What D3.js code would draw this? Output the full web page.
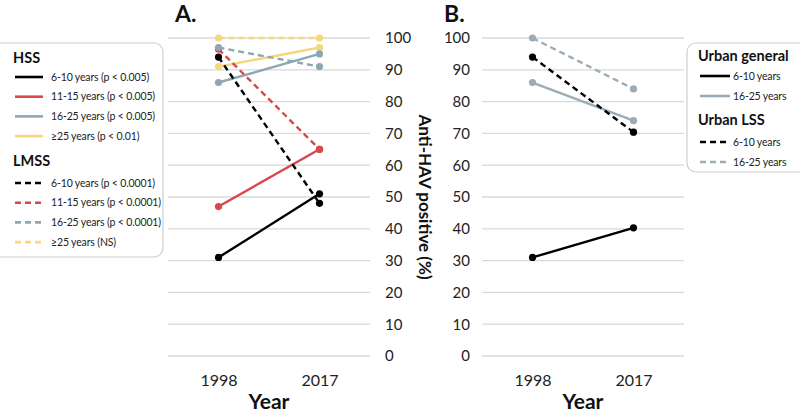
<!DOCTYPE html>
<html lang="en">
<head>
<meta charset="UTF-8">
<script src="https://cdnjs.cloudflare.com/ajax/libs/d3/7.8.5/d3.min.js"></script>
<title>Anti-HAV</title>
<style>
    body { margin: 0; background: #fff; }
    svg { font-family: Lato, "Open Sans", sans-serif; }
</style>
</head>
<body>
<div id="chart"></div>
<script>
// data
var years = ["1998", "2017"];
var yTicks = [0, 10, 20, 30, 40, 50, 60, 70, 80, 90, 100];

var hssLabels = ["6-10 years (p < 0.005)", "11-15 years (p < 0.005)", "16-25 years (p < 0.005)", "\u226525 years (p < 0.01)"];
var hssValues = [[31, 51], [47, 65], [86, 95], [91, 97]];
var lmssLabels = ["6-10 years (p < 0.0001)", "11-15 years (p < 0.0001)", "16-25 years (p < 0.0001)", "\u226525 years (NS)"];
var lmssValues = [[94, 48], [96.5, 65], [97, 91], [100, 100]];

var urbanLabels = ["6-10 years", "16-25 years"];
var urbanValues = [[31, 40.3], [86, 74]];
var urbanLssLabels = ["6-10 years", "16-25 years"];
var urbanLssValues = [[94, 70.4], [100, 84]];

var colA = ["#000000", "#d9474b", "#8ea7b3", "#f6d77e"];
var colB = ["#000000", "#98adb7"];

var svg = d3.select("#chart").append("svg").attr("width", 800).attr("height", 413);

var y = d3.scaleLinear().domain([0, 100]).range([356, 38]);
var xA = d3.scalePoint().domain(years).range([168, 370]).padding(0.5);
var xB = d3.scalePoint().domain(years).range([482, 684]).padding(0.5);

function panel(x, x0, x1) {
    svg.append("g").selectAll("line").data(yTicks).enter().append("line")
        .attr("x1", x0).attr("x2", x1)
        .attr("y1", function(d){ return y(d); }).attr("y2", function(d){ return y(d); })
        .attr("stroke", "#d9d9d9").attr("stroke-width", 1.3);
    var ax = svg.append("g").attr("transform", "translate(0,380)")
        .call(d3.axisBottom(x).tickSize(0).tickPadding(0));
    ax.select(".domain").remove();
    ax.selectAll("text").attr("font-size", 16).attr("fill", "#222").attr("dy", "0.35em")
        .style("font-family", "Lato, sans-serif");
    svg.append("text").attr("x", (x0 + x1) / 2).attr("y", 409)
        .attr("text-anchor", "middle").attr("font-size", 21).attr("font-weight", "bold")
        .attr("fill", "#111").text("Year");
}

function series(x, vals, color, dashed) {
    var pts = years.map(function(yr, i){ return [x(yr), y(vals[i])]; });
    svg.append("path").attr("d", d3.line()(pts)).attr("fill", "none")
        .attr("stroke", color).attr("stroke-width", 2.4)
        .attr("stroke-dasharray", dashed ? "6,4" : null);
    svg.append("g").selectAll("circle").data(pts).enter().append("circle")
        .attr("cx", function(d){ return d[0]; }).attr("cy", function(d){ return d[1]; })
        .attr("r", 3.6).attr("fill", color);
}

panel(xA, 168, 370);
panel(xB, 482, 684);

// panel A: solid first, then dashed on top
[3, 2, 1, 0].forEach(function(i){ series(xA, hssValues[i], colA[i], false); });
[3, 1, 2, 0].forEach(function(i){ series(xA, lmssValues[i], colA[i], true); });
// panel B
series(xB, urbanValues[1], colB[1], false);
series(xB, urbanLssValues[1], colB[1], true);
series(xB, urbanValues[0], colB[0], false);
series(xB, urbanLssValues[0], colB[0], true);

// y axes
var ayA = svg.append("g").attr("transform", "translate(385,0)")
    .call(d3.axisRight(y).tickValues(yTicks).tickSize(0).tickPadding(0));
var ayB = svg.append("g").attr("transform", "translate(470,0)")
    .call(d3.axisLeft(y).tickValues(yTicks).tickSize(0).tickPadding(0));
[ayA, ayB].forEach(function(a){
    a.select(".domain").remove();
    a.selectAll("text").attr("font-size", 15).attr("fill", "#222")
        .style("font-family", "Lato, sans-serif");
});

svg.append("text").attr("transform", "translate(425,197) rotate(90)")
    .attr("text-anchor", "middle").attr("dy", "0.35em")
    .attr("font-size", 17).attr("font-weight", "bold").attr("fill", "#111")
    .text("Anti-HAV positive (%)");

svg.append("text").attr("x", 175).attr("y", 22).attr("font-size", 23)
    .attr("font-weight", "bold").attr("fill", "#111").text("A.");
svg.append("text").attr("x", 444).attr("y", 22).attr("font-size", 23)
    .attr("font-weight", "bold").attr("fill", "#111").text("B.");

// legends
function legend(bx, by, bw, bh, groups, lx0, lx1, tx, fs) {
    svg.append("rect").attr("x", bx).attr("y", by).attr("width", bw).attr("height", bh)
        .attr("rx", 9).attr("fill", "#fff").attr("stroke", "#d0d0d0").attr("stroke-width", 1.2);
    groups.forEach(function(g){
        svg.append("text").attr("x", g.hx).attr("y", g.hy).attr("font-size", 14.5)
            .attr("font-weight", "bold").attr("fill", "#111").text(g.title);
        g.labels.forEach(function(l, i){
            var yy = g.y0 + i * g.dy;
            svg.append("line").attr("x1", lx0).attr("x2", lx1).attr("y1", yy).attr("y2", yy)
                .attr("stroke", g.colors[i]).attr("stroke-width", 2.6)
                .attr("stroke-dasharray", g.dashed ? "6,4" : null);
            svg.append("text").attr("x", tx).attr("y", yy).attr("dy", "0.35em")
                .attr("font-size", fs).attr("letter-spacing", -0.15)
                .attr("fill", "#222").text(l);
        });
    });
}

legend(-10, 43, 173, 214, [
    {title: "HSS", hx: 13, hy: 63, labels: hssLabels, colors: colA, dashed: false, y0: 77, dy: 19.7},
    {title: "LMSS", hx: 13, hy: 166, labels: lmssLabels, colors: colA, dashed: true, y0: 183, dy: 19.7}
], 15, 43, 51, 10.5);

legend(687, 43, 125, 129, [
    {title: "Urban general", hx: 698, hy: 61, labels: urbanLabels, colors: colB, dashed: false, y0: 76, dy: 20},
    {title: "Urban LSS", hx: 698, hy: 125, labels: urbanLssLabels, colors: colB, dashed: true, y0: 142, dy: 20}
], 700, 730, 733, 10.5);
</script>
</body>
</html>
